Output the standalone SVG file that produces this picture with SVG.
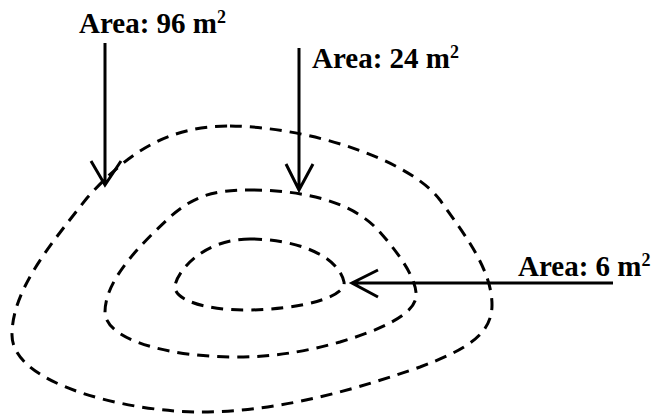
<svg xmlns="http://www.w3.org/2000/svg" width="652" height="416" viewBox="0 0 652 416">
<defs>
<style>
.contour{fill:none;stroke:#000;stroke-width:3;stroke-dasharray:12 8;stroke-linecap:butt}
.arrow{fill:none;stroke:#000;stroke-width:3;stroke-linecap:butt;stroke-linejoin:miter}
.lbl{font-family:"Liberation Serif","Times New Roman",serif;font-weight:bold;font-size:29px;fill:#000}
.sup{font-size:18px}
</style>
</defs>
<rect width="652" height="416" fill="#fff"/>
<g id="outer-contour">
<path class="contour" d="M230,126 C310,127 410,160 440,200 C465,235 492,270 492,305 C492,335 465,350 420,367 C340,395 270,412 200,412 C130,412 12,385 12,335 C12,290 50,245 87,198 C130,150 170,126 230,126 Z"/>
</g>
<g id="middle-contour">
<path class="contour" d="M250,190 C300,190 350,200 378,230 C398,252 418,280 416,297 C414,315 380,330 340,342 C300,353 270,357 235,357 C170,357 105,340 105,312 C105,280 140,245 170,217 C195,195 215,190 250,190 Z"/>
</g>
<g id="inner-contour">
<path class="contour" d="M250,239 C295,239 338,255 344,282 C347,297 300,310 245,310 C205,310 175,300 175,287 C175,275 200,239 250,239 Z"/>
</g>
<g id="label-96">
<text class="lbl" x="79" y="33">Area: 96 m<tspan class="sup" dy="-10">2</tspan></text>
</g>
<g id="label-24">
<text class="lbl" x="312" y="68">Area: 24 m<tspan class="sup" dy="-10">2</tspan></text>
</g>
<g id="label-6">
<text class="lbl" x="518" y="276">Area: 6 m<tspan class="sup" dy="-10">2</tspan></text>
</g>
<g id="connectors">
<path class="arrow" d="M105,43 L105,185 M91,161 L105,185 L121,161"/>
<path class="arrow" d="M299,48 L299,190 M286,164 L299,190 L313,164"/>
<path class="arrow" d="M613,283 L352,283 M378,270 L352,283 L378,297"/>
</g>
</svg>
